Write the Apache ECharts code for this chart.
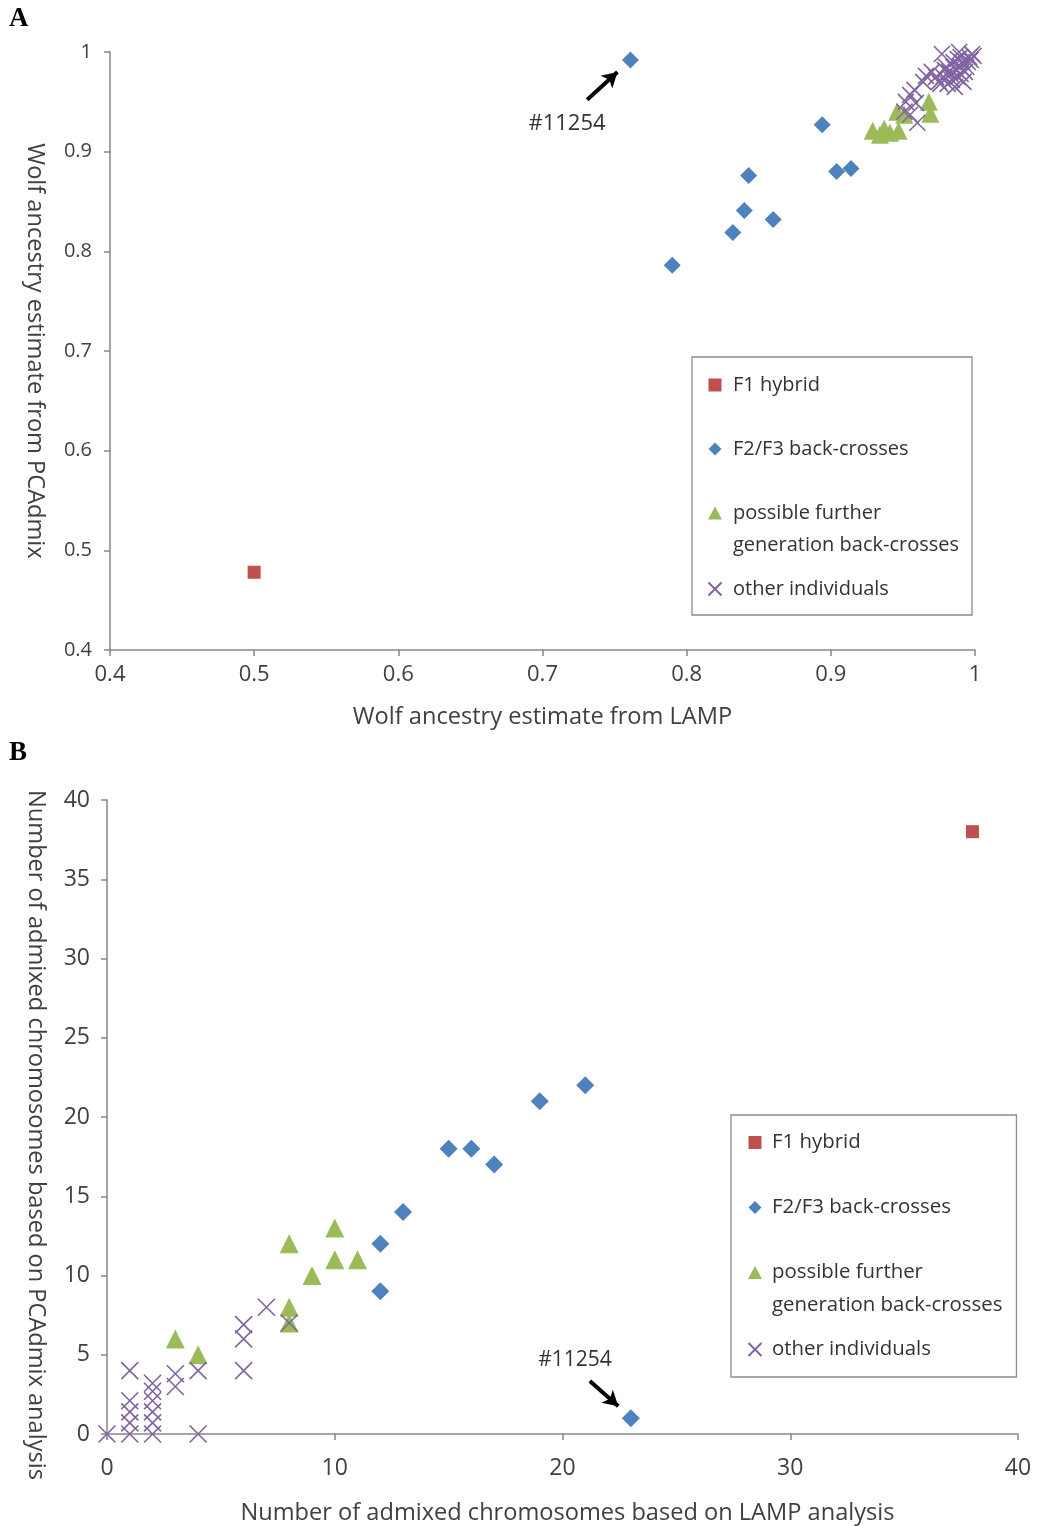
<!DOCTYPE html>
<html>
<head>
<meta charset="utf-8">
<title>LAMP vs PCAdmix</title>
<script src="https://cdn.jsdelivr.net/npm/echarts@6/dist/echarts.min.js"></script>
<style>
  html, body { margin: 0; padding: 0; background: #fff; }
  #chart { width: 1038px; height: 1526px; }
</style>
</head>
<body>
<div id="chart"></div>
<script>
/*
	数据：A 为祖先比例，B 为混杂染色体数目
 */
var seriesNames = ['F1 hybrid', 'F2/F3 back-crosses', 'possible further generation back-crosses', 'other individuals'];
var ticksA = [0.4, 0.5, 0.6, 0.7, 0.8, 0.9, 1];
var ticksB = [0, 10, 20, 30, 40];

// A: [LAMP, PCAdmix]
var f1A = [[0.5, 0.478]];
var f2A = [
	[0.761, 0.992], [0.894, 0.927], [0.843, 0.876], [0.840, 0.841], [0.860, 0.832],
	[0.832, 0.819], [0.790, 0.786], [0.904, 0.880], [0.914, 0.883]
];
var furtherA = [
	[0.929, 0.921], [0.934, 0.917], [0.937, 0.923], [0.941, 0.919], [0.947, 0.921],
	[0.946, 0.940], [0.951, 0.937], [0.968, 0.950], [0.969, 0.938]
];
var otherA = [
	[0.977, 0.998], [0.989, 1.0], [0.998, 0.998], [0.995, 0.990], [0.990, 0.985],
	[0.985, 0.990], [0.982, 0.980], [0.978, 0.975], [0.975, 0.970], [0.980, 0.985],
	[0.988, 0.975], [0.993, 0.980], [0.996, 0.995], [0.990, 0.995], [0.984, 0.972],
	[0.986, 0.965], [0.992, 0.970], [0.981, 0.968], [0.994, 0.985], [0.987, 0.982],
	[0.983, 0.978], [0.979, 0.982], [0.991, 0.990], [0.997, 0.992], [0.999, 0.996],
	[0.973, 0.975], [0.976, 0.968], [0.985, 0.985], [0.988, 0.993], [0.990, 0.978],
	[0.970, 0.980], [0.966, 0.976], [0.964, 0.970], [0.958, 0.962], [0.955, 0.957],
	[0.952, 0.950], [0.959, 0.949], [0.955, 0.937], [0.960, 0.929], [0.951, 0.940]
];

// B: [LAMP, PCAdmix]
var f1B = [[38, 38]];
var f2B = [[21, 22], [19, 21], [15, 18], [16, 18], [17, 17], [13, 14], [12, 12], [12, 9], [23, 1]];
var furtherB = [[8, 12], [10, 13], [10, 11], [11, 11], [9, 10], [8, 8], [8, 7], [3, 6], [4, 5]];
var otherB = [
	[0, 0], [1, 0], [1, 0.7], [1, 1.4], [1, 2.1], [1, 4],
	[2, 0], [2, 0.7], [2, 1.4], [2, 2.1], [2, 2.7], [2, 3.2],
	[3, 3], [3, 3.8], [4, 0], [4, 4], [6, 4], [6, 6], [6, 6.9], [7, 8], [8, 7]
];

// 标注 #11254：箭头起点、终点、文字位置（数据坐标）
var arrowA = [[0.731, 0.952], [0.752, 0.980]];
var labelA = [0.717, 0.928];
var arrowB = [[21.2, 3.35], [22.45, 1.75]];
var labelB = [20.55, 4.67];

var colors = ['#C0504D', '#4F81BD', '#9BBB59', '#8064A2'];
var crossPath = 'path://M0,0L10,10M10,0L0,10';
var fontName = "'Open Sans', 'Noto Sans', sans-serif";
var axisGray = '#868686';
var textGray = '#404040';

/* 图例图标：高度与两行文字对齐，第三项的三角形放在第一行 */
function legendIcons(h) {
	var c = h / 2;
	var box = 'M0,0M14,' + h;
	return [
		'path://' + box + 'M0.5,' + (c - 6.5) + 'L13.5,' + (c - 6.5) + 'L13.5,' + (c + 6.5) + 'L0.5,' + (c + 6.5) + 'Z',
		'path://' + box + 'M7,' + (c - 6.5) + 'L13.5,' + c + 'L7,' + (c + 6.5) + 'L0.5,' + c + 'Z',
		'path://' + box + 'M7,0.5L14,13.5L0,13.5Z',
		'path://' + box + 'M0.5,' + (c - 6.5) + 'L13.5,' + (c + 6.5) + 'M13.5,' + (c - 6.5) + 'L0.5,' + (c + 6.5)
	];
}

function makeAxis(grid, min, max, step, labelSize, labelMargin, name, nameSize, nameGap, isY, namePad) {
	return {
		type: 'value',
		gridIndex: grid,
		min: min,
		max: max,
		interval: step,
		name: name,
		nameLocation: 'middle',
		nameGap: nameGap,
		nameRotate: isY ? -90 : 0,
		nameTextStyle: { fontFamily: fontName, fontSize: nameSize, color: textGray, padding: namePad || 0 },
		axisLine: { show: true, lineStyle: { color: axisGray, width: 1.5 } },
		axisTick: { show: true, inside: false, length: 6, lineStyle: { color: axisGray, width: 1.5 } },
		axisLabel: { fontFamily: fontName, fontSize: labelSize, color: textGray, margin: labelMargin },
		splitLine: { show: false }
	};
}

function makeLegend(left, top, fontSize, lh, cfg) {
	var icons = legendIcons(lh + 14);
	var items = [];
	for (var i = 0; i < seriesNames.length; i++) {
		items.push({ name: seriesNames[i], icon: icons[i], textStyle: { padding: cfg.items[i] } });
	}
	return {
		orient: 'vertical',
		left: left,
		top: top,
		itemWidth: 14,
		itemHeight: lh + 14,
		itemGap: cfg.gap,
		padding: cfg.box,
		borderColor: '#8c8c8c',
		borderWidth: 1.3,
		textStyle: { fontFamily: fontName, fontSize: fontSize, color: '#333', lineHeight: lh },
		formatter: function (name) {
			if (name === seriesNames[2]) {
				return 'possible further\ngeneration back-crosses';
			}
			return name;
		},
		data: items
	};
}

function annotate(arrow, label, fontSize) {
	return {
		markLine: {
			silent: true,
			animation: false,
			symbol: ['none', 'arrow'],
			symbolSize: [13, 15],
			lineStyle: { color: '#000', width: 4, type: 'solid' },
			label: { show: false },
			emphasis: { disabled: true },
			data: [[{ coord: arrow[0] }, { coord: arrow[1] }]]
		},
		markPoint: {
			silent: true,
			animation: false,
			symbol: 'circle',
			symbolSize: 0,
			label: { show: true, formatter: '#11254', fontFamily: fontName, fontSize: fontSize, color: '#333' },
			data: [{ coord: label }]
		}
	};
}

function scatter(name, data, idx, symbol, size, ann) {
	var s = {
		name: name,
		type: 'scatter',
		xAxisIndex: idx,
		yAxisIndex: idx,
		data: data,
		symbol: symbol,
		symbolSize: size,
		animation: false
	};
	if (symbol === crossPath) {
		s.itemStyle = { color: 'rgba(0,0,0,0)', borderColor: colors[3], borderWidth: 1.6, opacity: 1 };
	} else {
		s.itemStyle = { color: colors[seriesNames.indexOf(name)], opacity: 1 };
	}
	if (ann) {
		s.markLine = ann.markLine;
		s.markPoint = ann.markPoint;
	}
	return s;
}

var myChart = echarts.init(document.getElementById('chart'), null, { renderer: 'canvas' });

var option = {
	backgroundColor: '#fff',
	color: colors,
	grid: [
		{ left: 110, top: 52, width: 865, height: 598 },
		{ left: 107, top: 800, width: 911, height: 634 }
	],
	xAxis: [
		makeAxis(0, 0.4, 1, 0.1, 22, 14, 'Wolf ancestry estimate from LAMP', 23.6, 55, false),
		makeAxis(1, 0, 40, 10, 23, 23, 'Number of admixed chromosomes based on LAMP analysis', 23.6, 67, false, [0, 0, 0, 10])
	],
	yAxis: [
		makeAxis(0, 0.4, 1, 0.1, 20, 18, 'Wolf ancestry estimate from PCAdmix', 23.6, 63, true),
		makeAxis(1, 0, 40, 5, 23, 17, 'Number of admixed chromosomes based on PCAdmix analysis', 23.6, 59, true, [0, 0, 0, 36])
	],
	legend: [
		makeLegend(692, 357, 20, 32, {
			gap: -3,
			box: [5, 13, 2, 15],
			items: [[0, 0, 0, 6], [28, 0, 28, 6], [7, 0, 7, 6], [0, 0, 0, 6]]
		}),
		makeLegend(731, 1115, 20.4, 33, {
			gap: -4,
			box: [4, 14, 3, 16],
			items: [[0, 0, 0, 5], [29, 0, 29, 5], [7, 0, 7, 5], [0, 0, 0, 5]]
		})
	],
	graphic: [
		{ type: 'text', left: 9, top: 6, style: { text: 'A', font: "bold 27px 'Liberation Serif', serif", fill: '#000' } },
		{ type: 'text', left: 9, top: 740, style: { text: 'B', font: "bold 27px 'Liberation Serif', serif", fill: '#000' } }
	],
	series: [
		scatter(seriesNames[0], f1A, 0, 'rect', 13),
		scatter(seriesNames[1], f2A, 0, 'diamond', 17, annotate(arrowA, labelA, 22)),
		scatter(seriesNames[2], furtherA, 0, 'triangle', 18),
		scatter(seriesNames[3], otherA, 0, crossPath, 16),
		scatter(seriesNames[0], f1B, 1, 'rect', 13),
		scatter(seriesNames[1], f2B, 1, 'diamond', 18, annotate(arrowB, labelB, 21)),
		scatter(seriesNames[2], furtherB, 1, 'triangle', 19),
		scatter(seriesNames[3], otherB, 1, crossPath, 17)
	]
};

myChart.setOption(option);
</script>
</body>
</html>
